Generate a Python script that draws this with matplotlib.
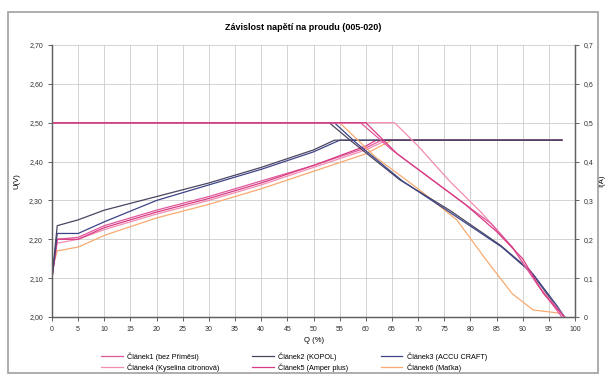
import numpy as np
import matplotlib.pyplot as plt
from matplotlib.lines import Line2D
from matplotlib.patches import Rectangle

names = ["Článek1 (bez Příměsi)", "Článek2 (KOPOL)", "Článek3 (ACCU CRAFT)",
         "Článek4 (Kyselina citronová)", "Článek5 (Amper plus)", "Článek6 (Maťka)"]
colors = ["#e0589c", "#4a4660", "#3c4488", "#f28cb0", "#d83c84", "#f8aa70"]

# napětí U(V) v závislosti na Q (%)
u_q = [
    [0, 1, 5, 10, 20, 30, 40, 50, 60, 63, 97.5],
    [0, 1, 5, 10, 20, 30, 40, 50, 54, 97.5],
    [0, 1, 5, 10, 20, 30, 40, 50, 55, 97.5],
    [0, 1, 5, 10, 20, 30, 40, 50, 60, 64, 97.5],
    [0, 1, 5, 10, 20, 30, 40, 50, 60, 62, 97.5],
    [0, 1, 5, 10, 20, 30, 40, 50, 60, 65, 97.5],
]
u_val = [
    [2.10, 2.20, 2.205, 2.235, 2.275, 2.31, 2.35, 2.39, 2.435, 2.455, 2.455],
    [2.10, 2.235, 2.25, 2.275, 2.31, 2.345, 2.385, 2.43, 2.455, 2.455],
    [2.10, 2.215, 2.215, 2.245, 2.30, 2.34, 2.38, 2.425, 2.455, 2.455],
    [2.11, 2.19, 2.20, 2.225, 2.265, 2.30, 2.34, 2.385, 2.43, 2.455, 2.455],
    [2.10, 2.20, 2.20, 2.23, 2.27, 2.305, 2.345, 2.39, 2.44, 2.455, 2.455],
    [2.12, 2.17, 2.18, 2.21, 2.255, 2.29, 2.33, 2.375, 2.42, 2.455, 2.455],
]

# proud I(A) v závislosti na Q (%)
i_q = [
    [0, 59, 65, 72, 78, 84, 88, 93, 97.5],
    [0, 53, 57, 66.5, 76, 85.7, 91.4, 96.2, 98],
    [0, 54, 58, 67, 76, 86, 92, 96.5, 98],
    [0, 65.5, 70, 76, 82, 88, 93, 98],
    [0, 60, 66, 72, 79, 85, 90, 94, 98],
    [0, 55, 62, 70, 77.4, 83, 88, 92, 97],
]
i_val = [
    [0.5, 0.5, 0.43, 0.36, 0.30, 0.24, 0.18, 0.08, 0.0],
    [0.5, 0.5, 0.455, 0.353, 0.275, 0.185, 0.12, 0.03, 0.0],
    [0.5, 0.5, 0.45, 0.35, 0.27, 0.18, 0.11, 0.03, 0.0],
    [0.5, 0.5, 0.44, 0.35, 0.27, 0.18, 0.08, 0.0],
    [0.5, 0.5, 0.42, 0.36, 0.29, 0.22, 0.15, 0.06, 0.0],
    [0.5, 0.5, 0.41, 0.33, 0.25, 0.147, 0.06, 0.018, 0.01],
]

x_ticks = list(range(0, 101, 5))
u_ticks = [2.0, 2.1, 2.2, 2.3, 2.4, 2.5, 2.6, 2.7]
i_ticks = [0, 0.1, 0.2, 0.3, 0.4, 0.5, 0.6, 0.7]

plt.rcParams['font.family'] = 'Liberation Sans'

fig = plt.figure(figsize=(6.06, 3.81), dpi=100)
fig.patches.append(Rectangle((8 / 606, 8 / 381), 590 / 606, 361 / 381,
                             transform=fig.transFigure, fill=False,
                             edgecolor="#a0a0a0", linewidth=1.2))

ax = fig.add_axes([52 / 606, 1 - 317 / 381, 523 / 606, 272 / 381])
ax2 = ax.twinx()

# napětí: tmavé články navrch, proud: růžové navrch
u_order = [5, 3, 0, 4, 2, 1]
i_order = [5, 1, 2, 3, 0, 4]
for k in u_order:
    ax.plot(u_q[k], u_val[k], color=colors[k], linewidth=0.9)
for k in i_order:
    ax2.plot(i_q[k], i_val[k], color=colors[k], linewidth=0.9)

ax.set_xlim(0, 100)
ax.set_ylim(2.0, 2.7)
ax2.set_ylim(0, 0.7)
ax.set_xticks(x_ticks)
ax.set_xticklabels([str(t) for t in x_ticks])
ax.set_yticks(u_ticks)
ax.set_yticklabels(["{:.2f}".format(t).replace(".", ",") for t in u_ticks])
ax2.set_yticks(i_ticks)
ax2.set_yticklabels(["0"] + ["{:.1f}".format(t).replace(".", ",") for t in i_ticks[1:]])

ax.grid(True, color="#cccccc", linewidth=0.6)
ax.set_axisbelow(True)
for a in (ax, ax2):
    a.tick_params(labelsize=5, length=3, width=0.7, color="#606060", labelcolor="#303030")
    a.spines["top"].set_visible(False)
    for side in ("left", "right", "bottom"):
        a.spines[side].set_color("#606060")
        a.spines[side].set_linewidth(0.9)

ax.set_xlabel("Q (%)", fontsize=5.5, labelpad=3)
ax.set_ylabel("U(V)", fontsize=5.5, labelpad=6)
ax2.set_ylabel("I(A)", fontsize=5.5, labelpad=3)
fig.text(0.5, 1 - 27 / 381, "Závislost napětí na proudu (005-020)",
         ha="center", va="center", fontsize=6.5, fontweight="bold")

# legenda po řádcích: matplotlib plní sloupce, proto přeskládat
order = [0, 3, 1, 4, 2, 5]
handles = [Line2D([], [], color=colors[k], linewidth=0.9) for k in order]
fig.legend(handles, [names[k] for k in order], ncol=3, loc="center",
           bbox_to_anchor=(0.485, 1 - 362 / 381),
           fontsize=5.2, frameon=False, handlelength=3, columnspacing=4.5,
           labelspacing=0.35, handletextpad=0.6)

fig.savefig("out.png", dpi=100)
